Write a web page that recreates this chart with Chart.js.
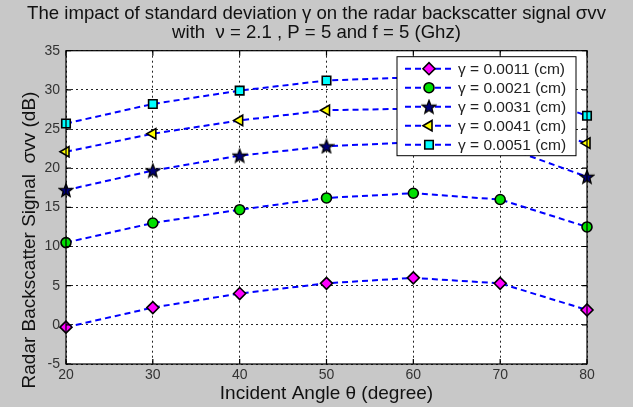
<!DOCTYPE html>
<html>
<head>
<meta charset="utf-8">
<script src="https://cdn.jsdelivr.net/npm/chart.js@4/dist/chart.umd.min.js"></script>
<style>
  body { margin: 0; background: #c8c8c8; }
  #wrap { width: 633px; height: 407px; }
</style>
</head>
<body>
<div id="wrap"><canvas id="radar-chart" width="633" height="407"></canvas></div>
<script>
// data
var angles = [20, 30, 40, 50, 60, 70, 80];
var gamma0011 = [-0.3, 2.2, 4.0, 5.3, 6.0, 5.3, 1.9];
var gamma0021 = [10.5, 13.0, 14.7, 16.2, 16.8, 16.0, 12.5];
var gamma0031 = [17.2, 19.7, 21.6, 22.8, 23.3, 22.9, 18.9];
var gamma0041 = [22.1, 24.4, 26.1, 27.4, 27.6, 26.4, 23.2];
var gamma0051 = [25.7, 28.2, 29.9, 31.2, 31.6, 30.5, 26.7];
var seriesLabels = ['γ = 0.0011 (cm)', 'γ = 0.0021 (cm)', 'γ = 0.0031 (cm)', 'γ = 0.0041 (cm)', 'γ = 0.0051 (cm)'];
var yTicks = [-5, 0, 5, 10, 15, 20, 25, 30, 35];
var yTitle = 'Radar Backscatter Signal  σvv (dB)';

Chart.defaults.font.family = '"Liberation Sans", Arial, sans-serif';

// filled five point star for the third series
function makeStar() {
  var c = document.createElement('canvas');
  c.width = 16; c.height = 16;
  var g = c.getContext('2d');
  g.beginPath();
  for (var i = 0; i < 10; i++) {
    var r = (i % 2 == 0) ? 7 : 3;
    var a = -Math.PI / 2 + i * Math.PI / 5;
    var px = 8 + r * Math.cos(a), py = 8.6 + r * Math.sin(a);
    if (i == 0) g.moveTo(px, py); else g.lineTo(px, py);
  }
  g.closePath();
  g.fillStyle = '#00007a';
  g.fill();
  g.lineWidth = 1.3;
  g.strokeStyle = '#000';
  g.stroke();
  return c;
}
var starImg = makeStar();

function toPoints(vals) {
  return angles.map(function (a, i) { return { x: a, y: vals[i] }; });
}

function makeSet(label, vals, style, fill, rot, radius) {
  return {
    label: label,
    data: toPoints(vals),
    borderColor: '#0000ff',
    borderWidth: 2,
    borderDash: [6, 4],
    pointStyle: style,
    pointRotation: rot,
    pointRadius: radius,
    pointBackgroundColor: fill,
    pointBorderColor: '#000',
    pointBorderWidth: 1.6,
    clip: false,
    tension: 0
  };
}

var datasets = [
  makeSet(seriesLabels[0], gamma0011, 'rectRot', '#ff00ff', 0, 6),
  makeSet(seriesLabels[1], gamma0021, 'circle', '#00e000', 0, 5),
  makeSet(seriesLabels[2], gamma0031, starImg, '#00007a', 0, 6),
  makeSet(seriesLabels[3], gamma0041, 'triangle', '#ffff00', -90, 6),
  makeSet(seriesLabels[4], gamma0051, 'rect', '#00ffff', 0, 6)
];

// gray figure, white axes, black box with inward ticks, boxed legend
var matlabLook = {
  id: 'matlabLook',
  beforeDraw: function (chart) {
    var ctx = chart.ctx, a = chart.chartArea;
    ctx.save();
    ctx.fillStyle = '#c8c8c8';
    ctx.fillRect(0, 0, chart.width, chart.height);
    ctx.fillStyle = '#fff';
    ctx.fillRect(a.left, a.top, a.right - a.left, a.bottom - a.top);
    ctx.restore();
  },
  afterDatasetsDraw: function (chart) {
    var ctx = chart.ctx, a = chart.chartArea;
    var xs = chart.scales.x, ys = chart.scales.y;
    ctx.save();
    ctx.strokeStyle = '#000';
    ctx.lineWidth = 1.2;
    ctx.setLineDash([]);
    ctx.strokeRect(a.left, a.top, a.right - a.left, a.bottom - a.top);
    ctx.beginPath();
    angles.forEach(function (v) {
      var px = xs.getPixelForValue(v);
      ctx.moveTo(px, a.bottom); ctx.lineTo(px, a.bottom - 5);
      ctx.moveTo(px, a.top); ctx.lineTo(px, a.top + 5);
    });
    yTicks.forEach(function (v) {
      var py = ys.getPixelForValue(v);
      ctx.moveTo(a.left, py); ctx.lineTo(a.left + 5, py);
      ctx.moveTo(a.right, py); ctx.lineTo(a.right - 5, py);
    });
    ctx.stroke();

    // legend box
    var bx = a.right - 190, by = a.top + 6, bw = 179, bh = 99;
    ctx.fillStyle = '#fff';
    ctx.fillRect(bx, by, bw, bh);
    ctx.lineWidth = 1;
    ctx.strokeRect(bx, by, bw, bh);
    ctx.font = '15.5px "Liberation Sans", Arial, sans-serif';
    ctx.textBaseline = 'middle';
    chart.data.datasets.forEach(function (ds, i) {
      var ly = by + 12 + i * 19;
      ctx.strokeStyle = '#0000ff';
      ctx.lineWidth = 2;
      ctx.setLineDash([6, 4]);
      ctx.beginPath();
      ctx.moveTo(bx + 8, ly); ctx.lineTo(bx + 56, ly);
      ctx.stroke();
      ctx.setLineDash([]);
      ctx.fillStyle = ds.pointBackgroundColor;
      ctx.strokeStyle = '#000';
      ctx.lineWidth = 1.6;
      Chart.helpers.drawPoint(ctx, {
        pointStyle: ds.pointStyle,
        rotation: ds.pointRotation,
        radius: ds.pointRadius,
        borderWidth: 1.6
      }, bx + 32, ly);
      ctx.fillStyle = '#222';
      ctx.fillText(ds.label, bx + 61, ly + 1);
    });

    // y axis title, placed like the figure (runs a bit below the axes)
    ctx.translate(30, 240);
    ctx.rotate(-Math.PI / 2);
    ctx.font = '19px "Liberation Sans", Arial, sans-serif';
    ctx.textAlign = 'center';
    ctx.fillStyle = '#111';
    ctx.fillText(yTitle, 0, 0);
    ctx.restore();
  }
};

new Chart(document.getElementById('radar-chart'), {
  type: 'line',
  data: { datasets: datasets },
  options: {
    responsive: false,
    animation: false,
    layout: { padding: 0 },
    plugins: {
      legend: { display: false },
      tooltip: { enabled: false },
      title: {
        display: true,
        text: ['The impact of standard deviation γ on the radar backscatter signal σvv',
               'with  ν = 2.1 , P = 5 and f = 5 (Ghz)'],
        color: '#111',
        font: { size: 18.6, weight: 'normal', lineHeight: 1.0 },
        padding: { top: 5, bottom: 8.5 }
      }
    },
    scales: {
      x: {
        type: 'linear',
        min: 20, max: 80,
        ticks: { stepSize: 10, color: '#333', font: { size: 14 }, padding: 3 },
        grid: { color: '#222', lineWidth: 1, drawTicks: false },
        border: { display: false, dash: [2, 3] },
        title: {
          display: true,
          text: 'Incident Angle θ (degree)',
          color: '#111',
          font: { size: 19 },
          padding: { top: 0, bottom: 1.5 }
        },
        afterFit: function (scale) { scale.height = 43; }
      },
      y: {
        min: -5, max: 35,
        ticks: { stepSize: 5, color: '#333', font: { size: 14 }, padding: 6 },
        grid: { color: '#222', lineWidth: 1, drawTicks: false },
        border: { display: false, dash: [2, 3] },
        title: { display: false, text: yTitle },
        afterFit: function (scale) { scale.width = 66; }
      },
      // empty gray strip on the right of the axes
      yRight: {
        position: 'right',
        min: -5, max: 35,
        ticks: { display: false },
        grid: { display: false },
        border: { display: false },
        afterFit: function (scale) { scale.width = 46; }
      }
    }
  },
  plugins: [matlabLook]
});
</script>
</body>
</html>
